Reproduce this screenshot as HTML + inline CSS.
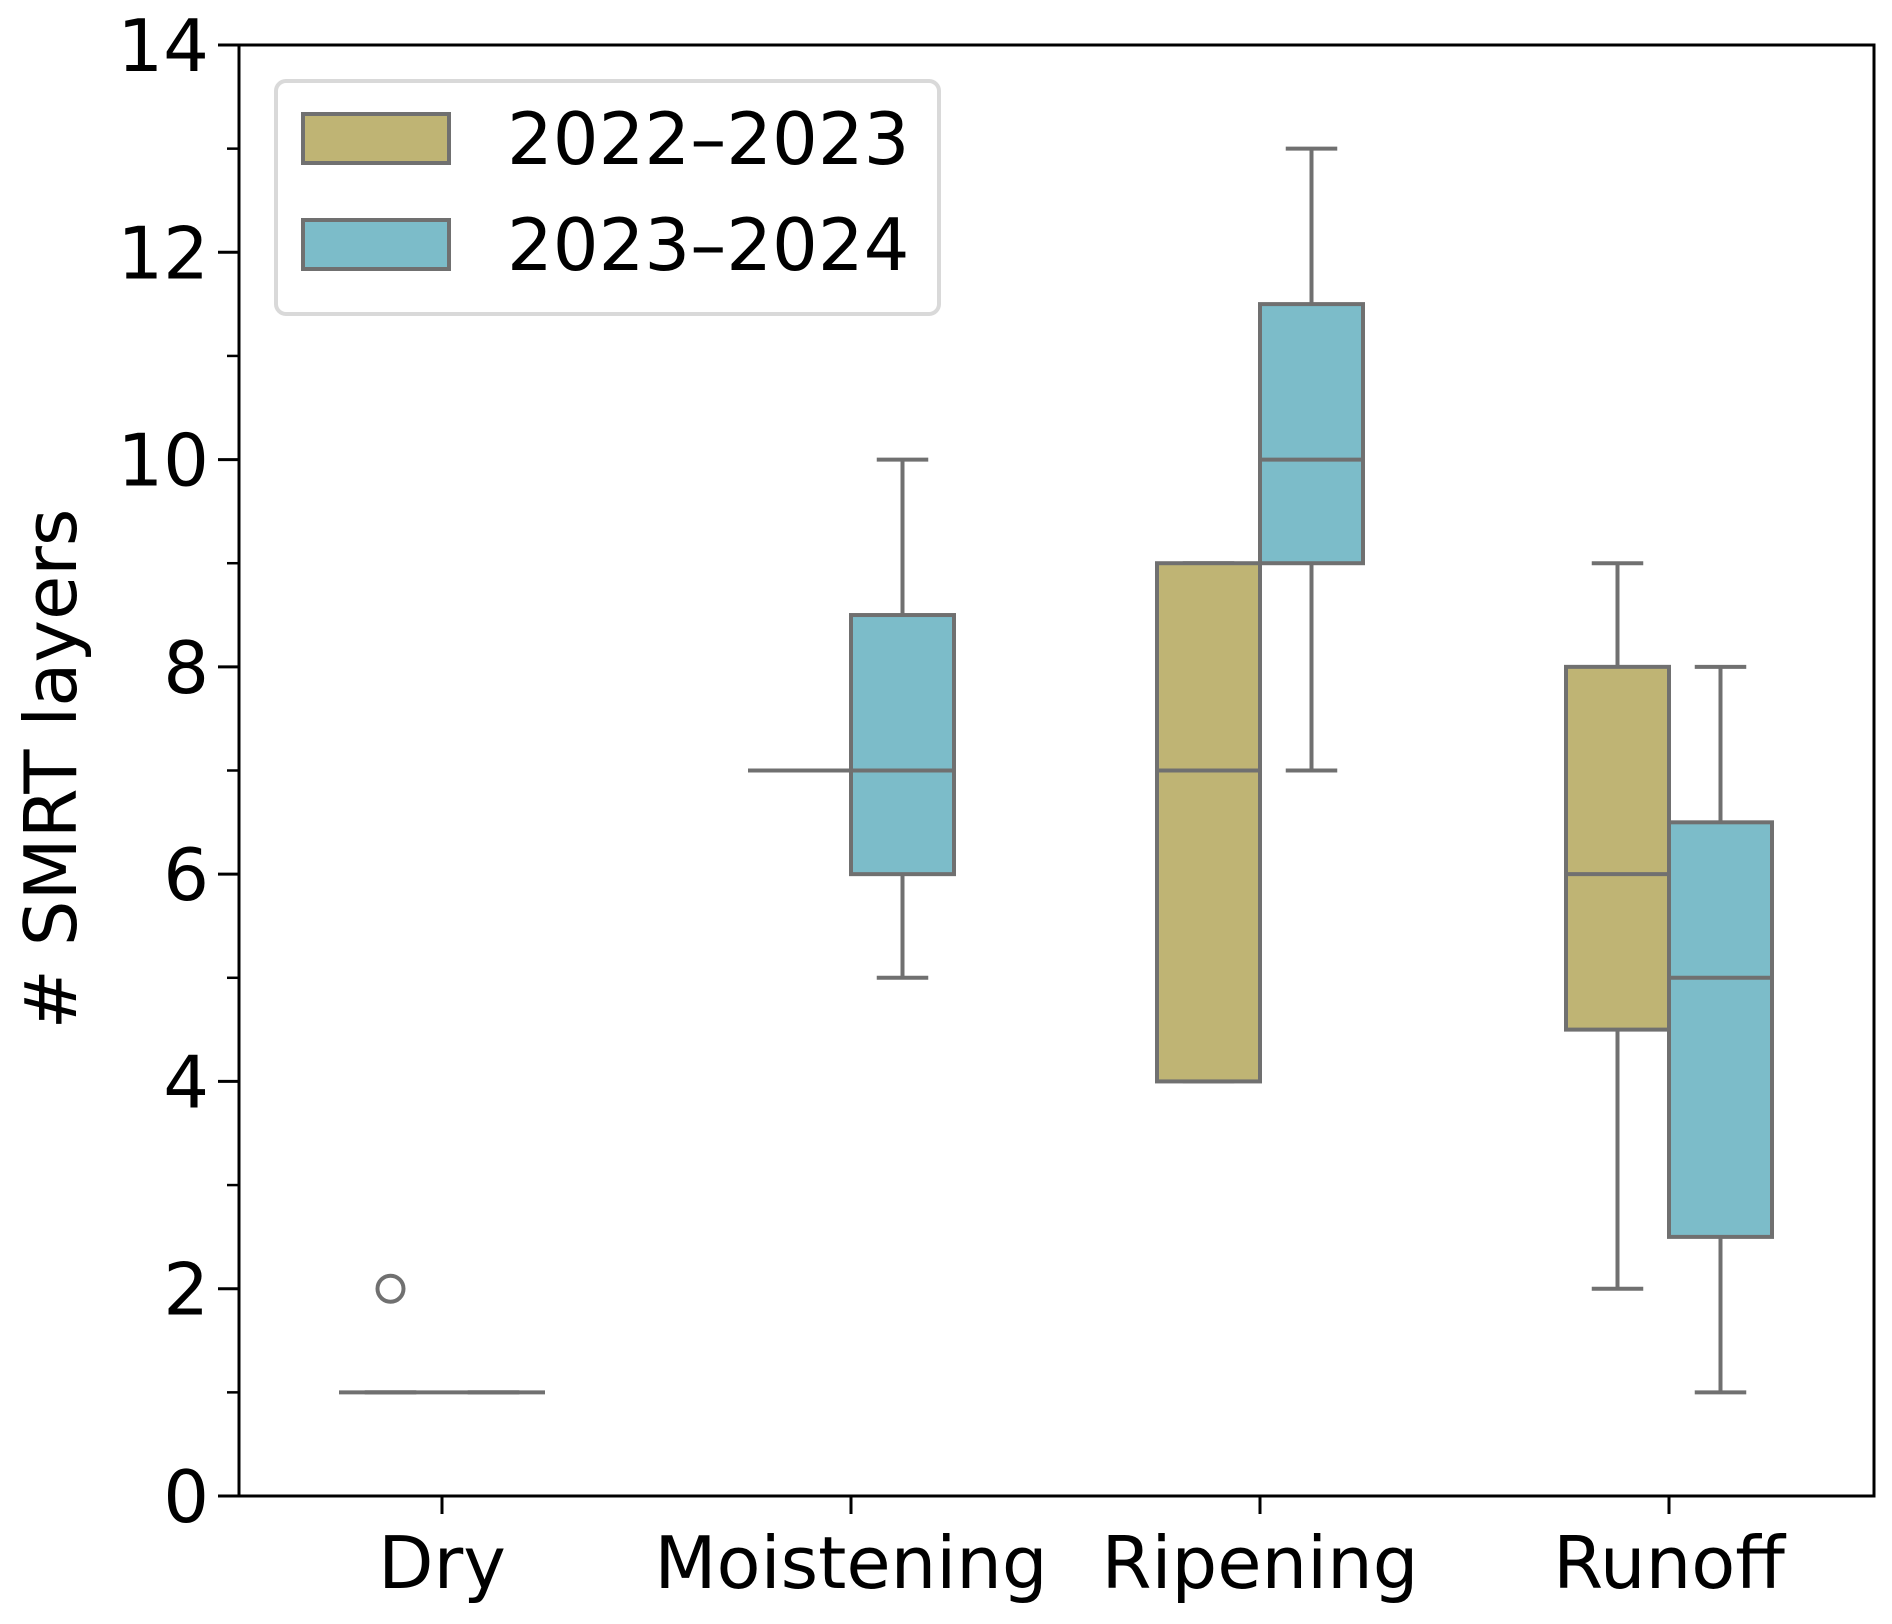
<!DOCTYPE html>
<html><head><meta charset="utf-8"><style>
html,body{margin:0;padding:0;background:#fff}
svg text{font-family:"DejaVu Sans","Liberation Sans",sans-serif;fill:#000}
</style></head><body>
<svg id="chart" width="1892" height="1619" viewBox="0 0 1892 1619" xmlns="http://www.w3.org/2000/svg">
<g id="plot"></g>
</svg>
<script>
const categories = ["Dry","Moistening","Ripening","Runoff"];
const seriesNames = ["2022–2023","2023–2024"];
const seriesColors = ["#bfb474","#7cbcc9"];
// [whiskerLow, q1, median, q3, whiskerHigh]
const stats2022 = [[1,1,1,1,1],[7,7,7,7,7],[4,4,7,9,9],[2,4.5,6,8,9]];
const stats2023 = [[1,1,1,1,1],[5,6,7,8.5,10],[7,9,10,11.5,13],[1,2.5,5,6.5,8]];
const outliers2022 = [[2],[],[],[]];
const outliers2023 = [[],[],[],[]];
const yTicks = [0,2,4,6,8,10,12,14];
const yMinor = [1,3,5,7,9,11,13];

const NS="http://www.w3.org/2000/svg";
const L=239,R=1874,T=45,B=1496, yMax=14;
const step=409, x0=442, boxW=103, edge="#707070";
const y=v=>B-(v/yMax)*(B-T);
const xc=i=>x0+i*step;
const g=document.getElementById('plot');
function mk(tag,attrs,parent){const e=document.createElementNS(NS,tag);for(const k in attrs)e.setAttribute(k,attrs[k]);(parent||g).appendChild(e);return e;}

const allStats=[stats2022,stats2023], allOut=[outliers2022,outliers2023];
allStats.forEach((st,s)=>{
  st.forEach((d,i)=>{
    const cx=xc(i)+(s===0?-boxW/2:boxW/2);
    const grp=mk('g',{});
    
    
    mk('line',{x1:cx,x2:cx,y1:y(d[0]),y2:y(d[1]),stroke:edge,'stroke-width':4},grp);
    mk('line',{x1:cx,x2:cx,y1:y(d[3]),y2:y(d[4]),stroke:edge,'stroke-width':4},grp);
    mk('line',{x1:cx-boxW/4,x2:cx+boxW/4,y1:y(d[0]),y2:y(d[0]),stroke:edge,'stroke-width':4},grp);
    mk('line',{x1:cx-boxW/4,x2:cx+boxW/4,y1:y(d[4]),y2:y(d[4]),stroke:edge,'stroke-width':4},grp);
    mk('rect',{x:cx-boxW/2,y:y(d[3]),width:boxW,height:Math.max(0,y(d[1])-y(d[3])),fill:seriesColors[s],stroke:edge,'stroke-width':4},grp);
    mk('line',{x1:cx-boxW/2,x2:cx+boxW/2,y1:y(d[2]),y2:y(d[2]),stroke:edge,'stroke-width':4},grp);
    allOut[s][i].forEach(o=>{
      const c=mk('circle',{cx:cx,cy:y(o),r:13,fill:'none',stroke:edge,'stroke-width':4},grp);
      
      
    });
  });
});

const frame=mk('rect',{x:L,y:T,width:R-L,height:B-T,fill:'none',stroke:'#000','stroke-width':3});



yTicks.forEach(v=>{
  mk('line',{x1:L-21,x2:L,y1:y(v),y2:y(v),stroke:'#000','stroke-width':3});
  const t=mk('text',{x:L-30,y:y(v)+26,'text-anchor':'end','font-size':72});
  t.textContent=v;
  
  
});
yMinor.forEach(v=>{mk('line',{x1:L-12,x2:L,y1:y(v),y2:y(v),stroke:'#000','stroke-width':2.5});});
categories.forEach((c,i)=>{
  mk('line',{x1:xc(i),x2:xc(i),y1:B,y2:B+18,stroke:'#000','stroke-width':3});
  const t=mk('text',{x:xc(i),y:1588,'text-anchor':'middle','font-size':72});
  t.textContent=c;
  
  
});
const yl=mk('text',{x:0,y:0,'text-anchor':'middle','font-size':72,transform:'translate(76,769) rotate(-90)'});
yl.textContent='# SMRT layers';



const lg=mk('g',{});


mk('rect',{x:276,y:81,width:663,height:233,rx:10,fill:'#fff',stroke:'#d9d9d9','stroke-width':4},lg);
seriesNames.forEach((n,s)=>{
  const yy=114+s*106;
  const p=mk('rect',{x:303,y:yy,width:146,height:49,fill:seriesColors[s],stroke:edge,'stroke-width':4},lg);
  
  
  const t=mk('text',{x:507,y:yy+50,'font-size':72},lg);
  t.textContent=n;
  
  
});
</script>
</body></html>
